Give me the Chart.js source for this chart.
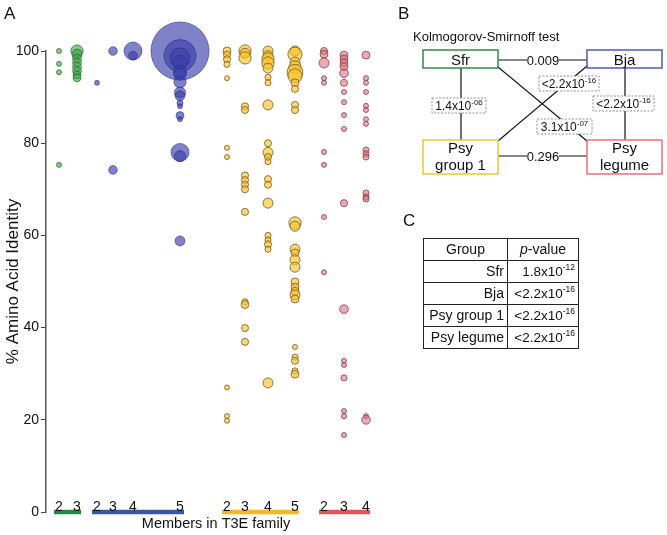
<!DOCTYPE html>
<html>
<head>
<meta charset="utf-8">
<script src="https://cdn.jsdelivr.net/npm/chart.js@4.4.1/dist/chart.umd.min.js"></script>
<style>
  body { margin: 0; background: #fff; font-family: "Liberation Sans", Arial, sans-serif; }
  #wrap { position: relative; width: 667px; height: 535px; }
  #chart { position: absolute; left: 0; top: 0; }
  svg { position: absolute; left: 0; top: 0; pointer-events: none; }
  #ptable { position: absolute; left: 423px; top: 238px; border-collapse: collapse; table-layout: fixed; width: 155px; font-size: 14px; color: #111; }
  #ptable td { border: 1px solid #222; height: 21px; padding: 0 3px 0 0; line-height: 21px; white-space: nowrap; }
  #ptable td.g { text-align: right; }
  #ptable td.p { text-align: right; font-size: 13.5px; }
  #ptable tr.head td { text-align: center; padding: 0; font-size: 14px; }
  sup { font-size: 8.5px; vertical-align: 6px; line-height: 0; }
</style>
</head>
<body>
<div id="wrap">
  <canvas id="chart" width="395" height="535"></canvas>
  <svg width="667" height="535" font-family="Liberation Sans, Arial, sans-serif" fill="#111">
    <text x="4" y="19" font-size="17">A</text>
    <text x="398" y="19" font-size="17">B</text>
    <text x="403" y="226" font-size="17">C</text>
    <text x="413" y="41" font-size="13">Kolmogorov-Smirnoff test</text>

    <g stroke="#111" stroke-width="1.2">
      <line x1="498" y1="60" x2="587" y2="60"/>
      <line x1="498" y1="156" x2="587" y2="156"/>
      <line x1="461" y1="68" x2="461" y2="140"/>
      <line x1="625" y1="68" x2="625" y2="140"/>
      <line x1="498" y1="67" x2="587" y2="141"/>
      <line x1="587" y1="66" x2="498" y2="141"/>
    </g>

    <g fill="#fff" stroke-width="1.5">
      <rect x="423" y="50" width="75" height="18" stroke="#2e8b4f"/>
      <rect x="587" y="50" width="75" height="18" stroke="#4a5fa6"/>
      <rect x="423" y="140" width="75" height="34" stroke="#f2c23a"/>
      <rect x="587" y="140" width="75" height="34" stroke="#e8707a"/>
    </g>
    <g font-size="15" text-anchor="middle">
      <text x="460.5" y="64.5">Sfr</text>
      <text x="624.5" y="64.5">Bja</text>
      <text x="460.5" y="153">Psy</text>
      <text x="460.5" y="170">group 1</text>
      <text x="624.5" y="153">Psy</text>
      <text x="624.5" y="170">legume</text>
    </g>

    <g fill="#fff">
      <rect x="527" y="52" width="32" height="16"/>
      <rect x="527" y="148" width="32" height="16"/>
    </g>
    <g font-size="13" text-anchor="middle">
      <text x="543" y="64.5">0.009</text>
      <text x="543" y="160.5">0.296</text>
    </g>

    <g fill="#fff" stroke="#777" stroke-width="0.8" stroke-dasharray="2,1.5">
      <rect x="432" y="98" width="54" height="15"/>
      <rect x="593" y="96" width="61" height="15"/>
      <rect x="537" y="119" width="55" height="15"/>
      <rect x="539" y="76" width="60" height="15"/>
    </g>
    <g font-size="12" text-anchor="middle">
      <text x="459" y="110">1.4x10<tspan dy="-5" font-size="8">-06</tspan></text>
      <text x="623.5" y="108">&lt;2.2x10<tspan dy="-5" font-size="8">-16</tspan></text>
      <text x="564.5" y="131">3.1x10<tspan dy="-5" font-size="8">-07</tspan></text>
      <text x="569" y="88">&lt;2.2x10<tspan dy="-5" font-size="8">-16</tspan></text>
    </g>
  </svg>
  <table id="ptable">
    <colgroup><col style="width:84px"><col style="width:71px"></colgroup>
    <tr class="head"><td class="g">Group</td><td class="p"><i>p</i>-value</td></tr>
    <tr><td class="g">Sfr</td><td class="p">1.8x10<sup>-12</sup></td></tr>
    <tr><td class="g">Bja</td><td class="p">&lt;2.2x10<sup>-16</sup></td></tr>
    <tr><td class="g">Psy group 1</td><td class="p">&lt;2.2x10<sup>-16</sup></td></tr>
    <tr><td class="g">Psy legume</td><td class="p">&lt;2.2x10<sup>-16</sup></td></tr>
  </table>
</div>

<script>
// groups and their member counts (x categories)
const groups = ['Sfr', 'Bja', 'Psy group 1', 'Psy legume'];
const members = [[2, 3], [2, 3, 4, 5], [2, 3, 4, 5], [2, 3, 4]];
// column position on the x axis for each member count
const columnPos = [[13, 31], [51, 67, 87, 134], [181, 199, 222, 249], [278, 298, 320]];

// % amino acid identity, one list per column
const sfrIdentity = [
  [100, 97.2, 95.4, 75.3],
  [100, 99.3, 98.4, 97.5, 96.6, 95.7, 94.8, 94.2]
];
const sfrCount = [
  [1, 1, 1, 1],
  [6, 4, 3, 3, 3, 3, 2.5, 2.5]
];
const bjaIdentity = [
  [93.1],
  [100, 74.2],
  [100, 99],
  [100, 99, 98.5, 97.5, 95.5, 95, 93.3, 91, 90.3, 88.7, 88, 86, 85.2, 78, 77.2, 58.8]
];
const bjaCount = [
  [1],
  [3, 3],
  [13, 3],
  [135, 41, 16, 8, 7, 6, 6, 5, 4, 1.5, 1, 2.5, 1, 13, 5, 4]
];
const psyIdentity = [
  [100, 99.2, 98.2, 97.1, 94.1, 79, 77, 27, 20.8, 19.8],
  [100, 99.5, 98.5, 88, 87.2, 73, 72, 71, 70, 65.1, 45.6, 45, 39.9, 36.9],
  [100, 99, 98.3, 97.4, 96.3, 94.3, 93.1, 88.3, 80, 78, 77, 76, 72.2, 71, 67, 60, 59, 58.1, 57, 28],
  [100, 99.3, 97.6, 96.5, 95.4, 94.6, 93.1, 91.8, 88.3, 87.2, 62.7, 62, 57, 56.2, 54.7, 53.1,
   49.9, 48.8, 47.9, 47.1, 46.2, 35.8, 33.6, 32.8, 30.6, 29.9]
];
const psyCount = [
  [2.5, 2, 2, 1.5, 1, 1, 1, 1, 1, 1],
  [6, 4, 6, 2, 2, 2, 2, 2, 2, 2, 1.5, 2.5, 2, 2],
  [4, 4, 6, 6, 4, 1.5, 1.5, 4, 2, 4, 2, 1.5, 2, 2, 4, 1.5, 1.5, 2, 1.5, 4],
  [4, 8, 4, 6, 10, 8, 2.5, 2, 2, 2, 6, 4, 4, 2.5, 4, 4, 2.5, 2.5, 2.5, 4, 2.5, 1, 1.5, 2, 1.5, 2.5]
];
const legIdentity = [
  [100, 99.3, 97.4, 94.1, 93.1, 78.1, 75.3, 64, 52],
  [99.1, 98.3, 97.4, 96.6, 95.2, 93.1, 91.1, 88.9, 86.1, 83.1, 67, 44, 32.8, 31.9, 29.1, 21.9, 20.8, 16.7],
  [99.1, 94.1, 93.1, 91.1, 88.1, 87.2, 85.2, 84.2, 78.5, 77.7, 77, 69.2, 68.3, 67.9, 20.8, 20]
];
const legCount = [
  [2, 2.5, 4, 1, 1, 1, 1, 1, 1],
  [2.5, 2.5, 2.5, 2.5, 3, 2, 1, 1, 1, 1, 2, 3, 1, 1, 1.5, 1, 1, 1],
  [2.5, 1, 1, 1, 1, 1, 1, 1, 1.5, 1.5, 1.5, 1.5, 1.5, 1.5, 1, 3]
];
const yTicks = [0, 20, 40, 60, 80, 100];

const identities = [sfrIdentity, bjaIdentity, psyIdentity, legIdentity];
const counts = [sfrCount, bjaCount, psyCount, legCount];
const fills = ['rgba(60,160,70,0.6)', 'rgba(60,65,170,0.66)', 'rgba(255,195,40,0.65)', 'rgba(230,110,125,0.6)'];
const edges = ['rgba(40,110,45,0.75)', 'rgba(40,40,130,0.55)', 'rgba(110,90,40,0.8)', 'rgba(120,70,80,0.8)'];
const barColors = ['#1e8a46', '#3b55a5', '#f7b722', '#e8525c'];

const tickPos = columnPos.flat();
const tickLabels = members.flat().map(String);

const datasets = [];
groups.forEach((g, gi) => {
  const pts = [];
  columnPos[gi].forEach((x, ci) => {
    identities[gi][ci].forEach((v, k) => {
      pts.push({ x: x, y: v, r: 2.5 * Math.sqrt(counts[gi][ci][k]) });
    });
  });
  datasets.push({
    type: 'bubble', label: g, data: pts,
    backgroundColor: fills[gi], borderColor: edges[gi], borderWidth: 1,
    hoverRadius: 0, clip: false
  });
});
groups.forEach((g, gi) => {
  const cols = columnPos[gi];
  datasets.push({
    type: 'line', label: g + ' bar',
    data: [{ x: cols[0] - 5, y: 0 }, { x: cols[cols.length - 1] + 4, y: 0 }],
    borderColor: barColors[gi], borderWidth: 4.5, pointRadius: 0, clip: false
  });
});

// member counts written just above the coloured group bars
const memberLabels = {
  id: 'memberLabels',
  afterDatasetsDraw(chart) {
    const { ctx, scales: { x, y } } = chart;
    ctx.save();
    ctx.font = '14px "Liberation Sans"';
    ctx.fillStyle = '#111';
    ctx.textAlign = 'center';
    ctx.textBaseline = 'alphabetic';
    tickPos.forEach((p, i) => {
      ctx.fillText(tickLabels[i], x.getPixelForValue(p), y.getPixelForValue(0) - 1.5);
    });
    ctx.restore();
  }
};

new Chart(document.getElementById('chart'), {
  type: 'bubble',
  data: { datasets: datasets },
  plugins: [memberLabels],
  options: {
    responsive: false,
    animation: false,
    layout: { autoPadding: false, padding: { top: 51, right: 9, bottom: 0, left: 0 } },
    plugins: { legend: { display: false }, tooltip: { enabled: false } },
    scales: {
      x: {
        type: 'linear', min: 0, max: 340,
        afterFit: s => { s.height = 23; },
        grid: { display: false, drawTicks: false },
        border: { display: false },
        ticks: { display: false },
        title: {
          display: true, text: 'Members in T3E family', color: '#111',
          font: { size: 14.5, family: 'Liberation Sans' }, padding: { top: 0, bottom: 2 }
        }
      },
      y: {
        min: 0, max: 100,
        afterBuildTicks: s => { s.ticks = yTicks.map(v => ({ value: v })); },
        afterFit: s => { s.width = 46; },
        grid: { drawOnChartArea: false, tickLength: 5, color: '#444' },
        border: { color: '#555', width: 1.5 },
        ticks: { padding: 2, color: '#111', font: { size: 14, family: 'Liberation Sans' } },
        title: {
          display: true, text: '% Amino Acid Identity', color: '#111',
          font: { size: 17, family: 'Liberation Sans' }, padding: { top: 3, bottom: 0 }
        }
      }
    }
  }
});
</script>
</body>
</html>
